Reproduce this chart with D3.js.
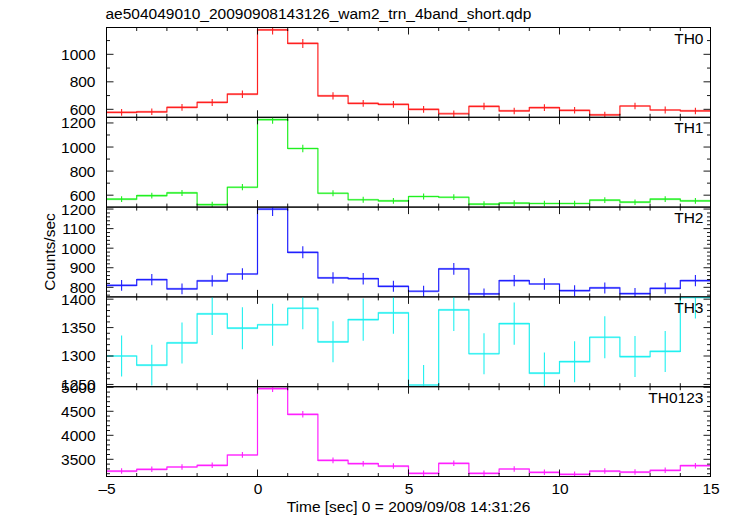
<!DOCTYPE html>
<html><head><meta charset="utf-8">
<script src="https://cdn.jsdelivr.net/npm/d3@7"></script>
<style>body{margin:0;background:#fff}svg{display:block}text{font-family:"Liberation Sans",Arial,sans-serif;fill:#000}</style>
</head><body><svg id="c" width="733" height="516"></svg>
<script>
const binCenters = [-4.5,-3.5,-2.5,-1.5,-0.5,0.5,1.5,2.5,3.5,4.5,5.5,6.5,7.5,8.5,9.5,10.5,11.5,12.5,13.5,14.5];
const th0 = [578,582,614,650,710,1178,1079,698,643,636,600,568,622,588,612,593,559,624,595,588];
const th0Err = [24,24,25,25,27,34,33,26,25,25,25,24,25,24,25,24,24,24,25,24];
const th1 = [567,597,619,522,666,1228,988,616,562,553,589,583,526,534,531,531,559,542,567,553];
const th1Err = [24,24,25,23,26,35,31,25,24,24,24,24,24,23,23,23,24,23,24,24];
const th2 = [810,839,792,833,868,1200,979,848,844,805,780,894,766,834,817,783,797,768,795,834];
const th2Err = [28,29,28,29,29,35,31,29,29,28,28,30,28,29,29,28,28,28,28,29];
const th3 = [1300,1284,1323,1374,1349,1355,1384,1325,1364,1376,1249,1381,1304,1357,1270,1290,1333,1299,1308,1403];
const th3Err = [36,36,36,37,37,37,37,36,37,37,35,37,36,37,36,36,37,36,36,37];
const th0123 = [3256,3292,3340,3375,3590,4971,4437,3479,3409,3360,3208,3417,3208,3298,3229,3187,3256,3235,3271,3367];
const th0123Err = [57,57,58,58,60,70,67,59,58,58,57,58,57,57,57,57,57,57,57,58];
const panelNames = ["TH0","TH1","TH2","TH3","TH0123"];
const xTickLabels = [-5,0,5,10,15];
const title = "ae504049010_20090908143126_wam2_trn_4band_short.qdp";
const xLabel = "Time [sec] 0 = 2009/09/08 14:31:26";
const yLabel = "Counts/sec";

const panels = [
  {name:panelNames[0], vals:th0, err:th0Err, dom:[542,1195], labels:[600,800,1000], minor:100, color:"#ff2020"},
  {name:panelNames[1], vals:th1, err:th1Err, dom:[501,1247], labels:[600,800,1000,1200], minor:100, color:"#20f020"},
  {name:panelNames[2], vals:th2, err:th2Err, dom:[751,1210], labels:[800,900,1000,1100,1200], minor:20, color:"#2020ff"},
  {name:panelNames[3], vals:th3, err:th3Err, dom:[1246,1404], labels:[1250,1300,1350,1400], minor:10, color:"#20f0f0"},
  {name:panelNames[4], vals:th0123, err:th0123Err, dom:[3142,5012], labels:[3500,4000,4500,5000], minor:100, color:"#ff20ff"}
];

const svg = d3.select("#c");
const L = 106.5, R = 710.5, T = 27.5, PH = 89.8;
const x = d3.scaleLinear().domain([-5,15]).range([L,R]);
const xMinor = d3.range(-5,16,1);

svg.append("text").attr("x",L-1).attr("y",19).attr("font-size",15.5).text(title);

panels.forEach((p,i)=>{
  const top = T + i*PH, bot = top + PH;
  const y = d3.scaleLinear().domain(p.dom).range([bot,top]);
  const g = svg.append("g");
  const clipId = "clip"+i;
  svg.append("clipPath").attr("id",clipId).append("rect").attr("x",L).attr("y",top).attr("width",R-L).attr("height",PH);
  const pts = [];
  binCenters.forEach((c,k)=>{pts.push([c-0.5,p.vals[k]]);pts.push([c+0.5,p.vals[k]]);});
  const line = d3.line().x(d=>x(d[0])).y(d=>y(d[1]));
  const dg = g.append("g").attr("clip-path",`url(#${clipId})`);
  dg.append("path").attr("d",line(pts)).attr("fill","none").attr("stroke",p.color).attr("stroke-width",1.2);
  dg.selectAll(".h").data(binCenters).enter().append("line")
    .attr("x1",c=>x(c-0.5)).attr("x2",c=>x(c+0.5))
    .attr("y1",(c,k)=>y(p.vals[k])).attr("y2",(c,k)=>y(p.vals[k]))
    .attr("stroke",p.color).attr("stroke-opacity",0.4).attr("stroke-width",2.2);
  dg.selectAll(".v").data(binCenters).enter().append("line")
    .attr("x1",c=>x(c)).attr("x2",c=>x(c))
    .attr("y1",(c,k)=>y(p.vals[k]-p.err[k])).attr("y2",(c,k)=>y(p.vals[k]+p.err[k]))
    .attr("stroke",p.color).attr("stroke-width",1.1);
  g.append("rect").attr("x",L).attr("y",top).attr("width",R-L).attr("height",PH)
    .attr("fill","none").attr("stroke","#000").attr("stroke-width",1);
  xMinor.forEach(v=>{
    const len = (v%5===0)?7:3.5;
    g.append("line").attr("x1",x(v)).attr("x2",x(v)).attr("y1",top).attr("y2",top+len).attr("stroke","#000").attr("stroke-width",0.9);
    g.append("line").attr("x1",x(v)).attr("x2",x(v)).attr("y1",bot).attr("y2",bot-len).attr("stroke","#000").attr("stroke-width",0.9);
  });
  const yt = d3.range(Math.ceil(p.dom[0]/p.minor)*p.minor, p.dom[1]+0.001, p.minor);
  yt.forEach(v=>{
    const major = p.labels.includes(v);
    const len = major?7:3.5;
    g.append("line").attr("x1",L).attr("x2",L+len).attr("y1",y(v)).attr("y2",y(v)).attr("stroke","#000").attr("stroke-width",0.9);
    g.append("line").attr("x1",R).attr("x2",R-len).attr("y1",y(v)).attr("y2",y(v)).attr("stroke","#000").attr("stroke-width",0.9);
  });
  const ax = d3.axisLeft(y).tickValues(p.labels).tickSize(0).tickPadding(11).tickFormat(d3.format("d"));
  const ag = g.append("g").attr("transform",`translate(${L},0)`).call(ax);
  ag.select(".domain").remove();
  ag.selectAll("text").attr("font-size",15.5).attr("font-family","Liberation Sans, Arial, sans-serif").attr("fill","#000");
  g.append("text").attr("x",R-7).attr("y",top+16).attr("text-anchor","end").attr("font-size",15.5).text(p.name);
});

const xa = d3.axisBottom(x).tickValues(xTickLabels).tickSize(0).tickPadding(6)
  .tickFormat(d=> d<0 ? "\u2013"+Math.abs(d) : String(d));
const xg = svg.append("g").attr("transform",`translate(0,${T+5*PH})`).call(xa);
xg.select(".domain").remove();
xg.selectAll("text").attr("font-size",15.5).attr("font-family","Liberation Sans, Arial, sans-serif").attr("fill","#000");

svg.append("text").attr("x",(L+R)/2).attr("y",512).attr("text-anchor","middle").attr("font-size",15.5).text(xLabel);
svg.append("text").attr("transform",`translate(55,${T+2.5*PH}) rotate(-90)`).attr("text-anchor","middle").attr("font-size",15.5).text(yLabel);
</script></body></html>
